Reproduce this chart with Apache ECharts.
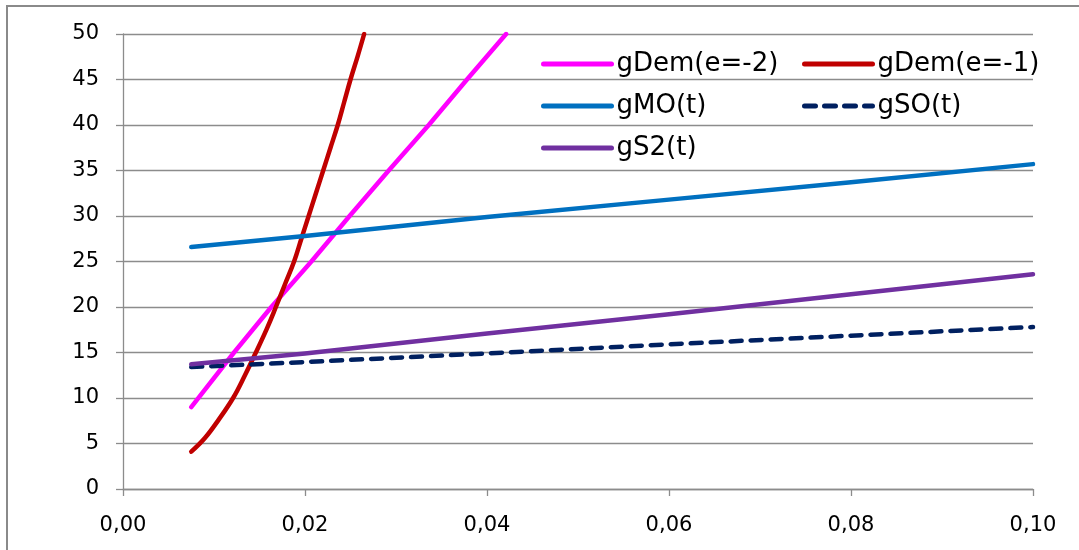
<!DOCTYPE html>
<html>
<head>
<meta charset="utf-8">
<script src="https://cdn.jsdelivr.net/npm/echarts@6/dist/echarts.min.js"></script>
<style>
  html, body { margin: 0; padding: 0; background: #fff; }
  #chart { width: 1079px; height: 550px; position: absolute; left: 0; top: 0; }
  #frame { position: absolute; left: 6px; top: 5px; width: 1100px; height: 600px;
           border: 2px solid #8a8a8a; pointer-events: none; }
</style>
</head>
<body>
<div id="chart"></div>
<div id="frame"></div>
<script>
// ---- data ----
const seriesNames = ['gDem(e=-2)', 'gDem(e=-1)', 'gMO(t)', 'gSO(t)', 'gS2(t)'];

const demE2_t = [0.0075, 0.0122, 0.0163, 0.0207, 0.0249, 0.0292, 0.0336, 0.0378, 0.0421];
const demE2_v = [9.0, 15.0, 20.0, 25.0, 30.0, 35.0, 40.0, 45.0, 50.0];

const demE1_t = [0.0075, 0.0090, 0.0105, 0.0121, 0.0134, 0.0146, 0.0158, 0.0168, 0.0178, 0.0188, 0.0196, 0.0204, 0.0212, 0.0220, 0.0228, 0.0236, 0.0243, 0.0250, 0.0258, 0.0265];
const demE1_v = [4.1, 5.6, 7.6, 10.0, 12.5, 15.0, 17.6, 20.0, 22.5, 25.0, 27.5, 30.0, 32.5, 35.0, 37.5, 40.0, 42.5, 45.0, 47.6, 50.0];

const mo_t = [0.0075, 0.02, 0.04, 0.06, 0.08, 0.10];
const mo_v = [26.6, 27.8, 29.9, 31.8, 33.7, 35.7];

const so_t = [0.0075, 0.02, 0.04, 0.06, 0.08, 0.10];
const so_v = [13.4, 13.95, 14.9, 15.9, 16.85, 17.8];

const s2_t = [0.0075, 0.02, 0.04, 0.06, 0.08, 0.10];
const s2_v = [13.7, 14.9, 17.1, 19.2, 21.4, 23.6];

const xTicks = { min: 0, max: 0.10, interval: 0.02 };
const yTicks = { min: 0, max: 50, interval: 5 };

const colors = ['#FF00FF', '#C00000', '#0070C0', '#002060', '#7030A0'];

// ---- build ----
function zip(ts, vs) { return ts.map((t, i) => [t, vs[i]]); }
const allData = [zip(demE2_t, demE2_v), zip(demE1_t, demE1_v), zip(mo_t, mo_v), zip(so_t, so_v), zip(s2_t, s2_v)];

const FONT = 'DejaVu Sans';
const axisGray = '#8c8c8c';

const series = allData.map((d, i) => ({
  name: seriesNames[i],
  type: 'line',
  data: d,
  symbol: 'none',
  showSymbol: false,
  smooth: i === 1 ? 0.4 : false,
  clip: true,
  color: colors[i],
  lineStyle: {
    color: colors[i],
    width: 4.5,
    cap: 'round',
    join: 'round',
    type: i === 3 ? [11, 9] : 'solid'
  },
  z: 2 + i
}));

const legendText = { fontFamily: FONT, fontSize: 26, color: '#000', lineHeight: 30 };
const legendCommon = {
  orient: 'vertical', top: 49, itemGap: 12, padding: 0,
  itemWidth: 68, itemHeight: 5, textStyle: legendText,
  itemStyle: { color: 'transparent', borderColor: 'transparent', borderWidth: 0, opacity: 0 },
  lineStyle: { width: 5, cap: 'round' }
};

const option = {
  animation: false,
  backgroundColor: 'transparent',
  grid: { left: 123, right: 46, top: 34, bottom: 61, containLabel: false },
  legend: [
    Object.assign({}, legendCommon, { data: [seriesNames[0], seriesNames[2], seriesNames[4]], left: 541 }),
    Object.assign({}, legendCommon, { data: [seriesNames[1], seriesNames[3]], left: 802 })
  ],
  xAxis: {
    type: 'value',
    min: xTicks.min, max: xTicks.max, interval: xTicks.interval,
    axisLine: { show: true, lineStyle: { color: axisGray, width: 1.3 } },
    axisTick: { show: true, length: 7, lineStyle: { color: axisGray, width: 1.3 } },
    splitLine: { show: false },
    axisLabel: {
      fontFamily: FONT, fontSize: 21, color: '#000', margin: 26,
      formatter: v => v.toFixed(2).replace('.', ',')
    }
  },
  yAxis: {
    type: 'value',
    min: yTicks.min, max: yTicks.max, interval: yTicks.interval,
    axisLine: { show: true, lineStyle: { color: axisGray, width: 1.3 } },
    axisTick: { show: true, length: 7, lineStyle: { color: axisGray, width: 1.3 } },
    splitLine: { show: true, lineStyle: { color: axisGray, width: 1.3 } },
    axisLabel: { fontFamily: FONT, fontSize: 21, color: '#000', margin: 24 }
  },
  series: series
};

const chart = echarts.init(document.getElementById('chart'), null, { renderer: 'canvas' });
chart.setOption(option);
</script>
</body>
</html>
